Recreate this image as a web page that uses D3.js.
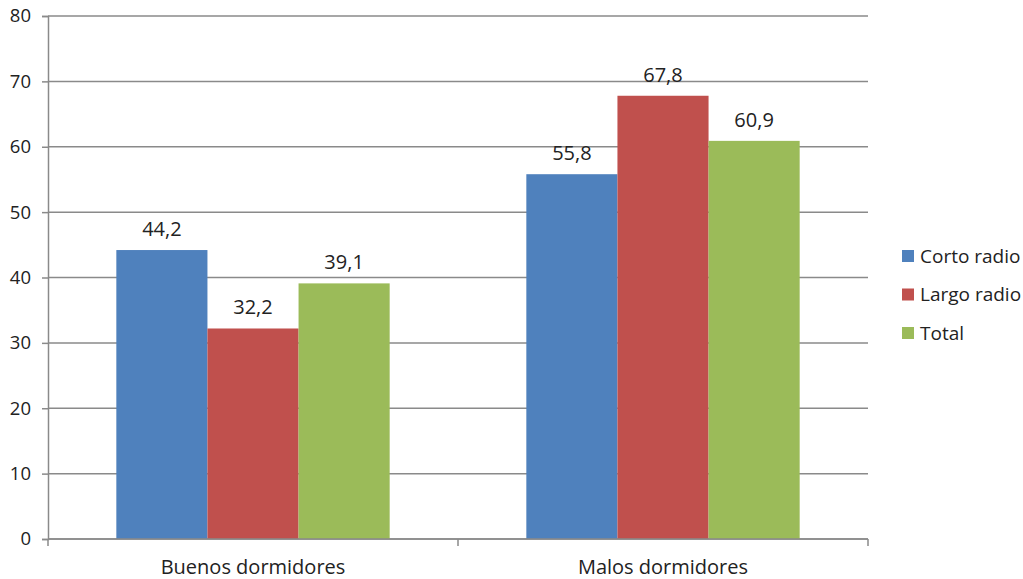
<!DOCTYPE html>
<html>
<head>
<meta charset="utf-8">
<script src="https://cdn.jsdelivr.net/npm/d3@7"></script>
<style>
  html, body { margin: 0; padding: 0; background: #fff; }
  svg text { font-family: "Open Sans", "Noto Sans", sans-serif; fill: #222; }
</style>
</head>
<body>
<svg id="chart" width="1023" height="579"></svg>
<script>
// Sleep-quality groups and the three measured series
const categories = ["Buenos dormidores", "Malos dormidores"];
const seriesNames = ["Corto radio", "Largo radio", "Total"];
const cortoRadio = [44.2, 55.8];
const largoRadio = [32.2, 67.8];
const total = [39.1, 60.9];
const yTicks = [0, 10, 20, 30, 40, 50, 60, 70, 80];
const colors = ["#4F81BD", "#C0504D", "#9BBB59"];

const seriesValues = [cortoRadio, largoRadio, total];
const rows = categories.map((c, i) => ({
  category: c,
  values: seriesNames.map((s, j) => ({ series: s, value: seriesValues[j][i] }))
}));

const svg = d3.select("#chart");
const margin = { left: 48, right: 868, top: 16, bottom: 539 };

const x0 = d3.scaleBand().domain(categories).range([margin.left, margin.right]).paddingInner(0).paddingOuter(0);
const x1 = d3.scaleBand().domain(seriesNames).range([0, x0.bandwidth()]).paddingInner(0).paddingOuter(0.75);
const y = d3.scaleLinear().domain([0, 80]).range([margin.bottom, margin.top]);

const gridColor = "#8a8a8a";

// horizontal gridlines
svg.append("g").selectAll("line").data(yTicks).join("line")
  .attr("x1", margin.left).attr("x2", margin.right)
  .attr("y1", d => y(d)).attr("y2", d => y(d))
  .attr("stroke", gridColor).attr("stroke-width", 1.5);

// bars
const groups = svg.append("g").selectAll("g").data(rows).join("g")
  .attr("transform", d => `translate(${x0(d.category)},0)`);

groups.selectAll("rect").data(d => d.values).join("rect")
  .attr("x", d => x1(d.series))
  .attr("y", d => y(d.value))
  .attr("width", x1.bandwidth())
  .attr("height", d => y(0) - y(d.value))
  .attr("fill", (d, i) => colors[i]);

// value labels
groups.selectAll("text").data(d => d.values).join("text")
  .attr("x", d => x1(d.series) + x1.bandwidth() / 2)
  .attr("y", d => y(d.value) - 14)
  .attr("text-anchor", "middle")
  .style("font-size", "20px")
  .text(d => d3.format(".1f")(d.value).replace(".", ","));

// y axis
const yAxis = svg.append("g")
  .attr("transform", `translate(${margin.left},0)`)
  .call(d3.axisLeft(y).tickValues(yTicks).tickSize(6).tickPadding(11).tickFormat(d3.format("d")));
yAxis.select(".domain").attr("stroke", gridColor).attr("stroke-width", 1.5);
yAxis.selectAll(".tick line").attr("stroke", gridColor).attr("stroke-width", 1.5);
yAxis.selectAll(".tick text").style("font-size", "18.5px").attr("fill", "#222");

// x axis with tick marks at category boundaries
const xAxisG = svg.append("g").attr("transform", `translate(0,${margin.bottom})`);
xAxisG.append("line")
  .attr("x1", margin.left).attr("x2", margin.right)
  .attr("stroke", gridColor).attr("stroke-width", 1.5);
const boundaries = categories.map(c => x0(c)).concat([x0(categories[categories.length - 1]) + x0.bandwidth()]);
xAxisG.selectAll("line.b").data(boundaries).join("line").attr("class", "b")
  .attr("x1", d => d).attr("x2", d => d).attr("y1", 0).attr("y2", 7)
  .attr("stroke", gridColor).attr("stroke-width", 1.5);
xAxisG.selectAll("text").data(categories).join("text")
  .attr("x", d => x0(d) + x0.bandwidth() / 2)
  .attr("y", 35)
  .attr("text-anchor", "middle")
  .style("font-size", "20px")
  .text(d => d);

// legend
const legend = svg.append("g").attr("transform", "translate(902,250)");
const items = legend.selectAll("g").data(seriesNames).join("g")
  .attr("transform", (d, i) => `translate(0,${i * 38.5})`);
items.append("rect").attr("width", 12).attr("height", 12).attr("fill", (d, i) => colors[i]);
items.append("text").attr("x", 18).attr("y", 6).attr("dy", "0.35em")
  .style("font-size", "19px").text(d => d);
</script>
</body>
</html>
